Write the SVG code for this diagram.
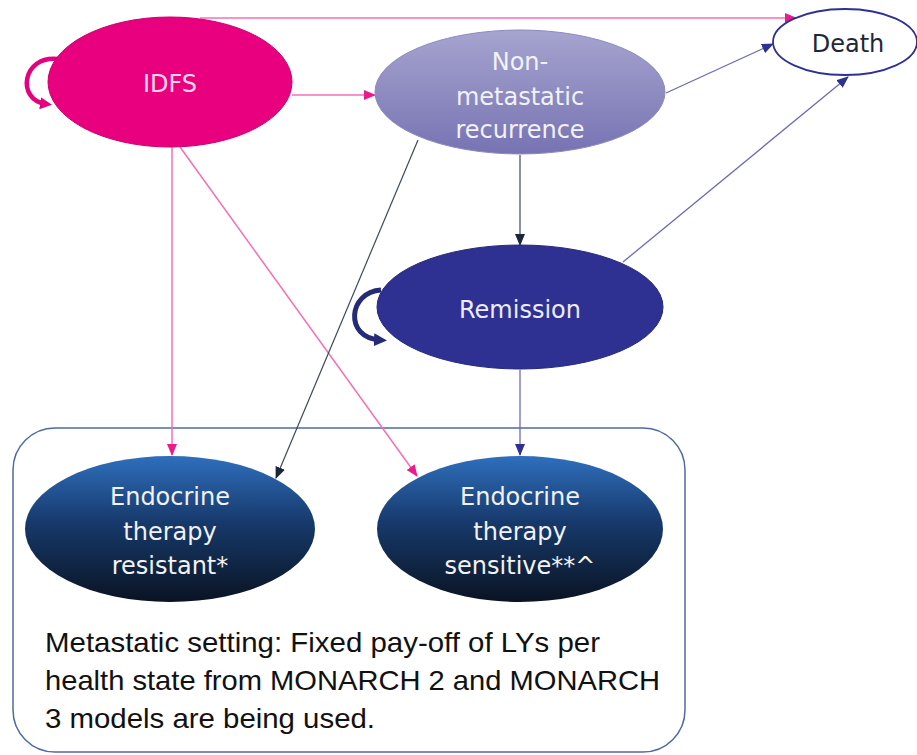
<svg xmlns="http://www.w3.org/2000/svg" width="917" height="755" viewBox="0 0 917 755">
  <style>
    .lbl { font-family: "DejaVu Sans", "Liberation Sans", sans-serif; font-size: 24px; text-anchor: middle; }
    .pink { stroke: #f46fb6; stroke-width: 1.5; fill: none; }
    .blue { stroke: #6b6bb8; stroke-width: 1.3; fill: none; }
    .dark { stroke: #3c4a5c; stroke-width: 1.2; fill: none; }
    .note { font-family: "Liberation Sans", Arial, sans-serif; font-size: 28px; fill: #111; }
  </style>
  <defs>
    <marker id="ahPink" markerUnits="userSpaceOnUse" markerWidth="12" markerHeight="10" refX="11" refY="5" orient="auto">
      <path d="M0,0 L12,5 L0,10 Z" fill="#ec1a8a"/>
    </marker>
    <marker id="ahBlue" markerUnits="userSpaceOnUse" markerWidth="12" markerHeight="10" refX="11" refY="5" orient="auto">
      <path d="M0,0 L12,5 L0,10 Z" fill="#2e3192"/>
    </marker>
    <marker id="ahDark" markerUnits="userSpaceOnUse" markerWidth="12" markerHeight="10" refX="11" refY="5" orient="auto">
      <path d="M0,0 L12,5 L0,10 Z" fill="#1b2636"/>
    </marker>
    <marker id="ahLoopPink" markerUnits="userSpaceOnUse" markerWidth="12" markerHeight="12" refX="6" refY="6" orient="auto">
      <path d="M0,0 L12,6 L0,12 Z" fill="#e6007e"/>
    </marker>
    <marker id="ahLoopNavy" markerUnits="userSpaceOnUse" markerWidth="13" markerHeight="13" refX="6" refY="6.5" orient="auto">
      <path d="M0,0 L13,6.5 L0,13 Z" fill="#262b78"/>
    </marker>
    <linearGradient id="gNon" x1="0" y1="0" x2="0" y2="1">
      <stop offset="0" stop-color="#a6a4cf"/>
      <stop offset="1" stop-color="#7773b3"/>
    </linearGradient>
    <linearGradient id="gEndo" x1="0" y1="0" x2="0" y2="1">
      <stop offset="0" stop-color="#2f6fbd"/>
      <stop offset="0.45" stop-color="#173a6c"/>
      <stop offset="1" stop-color="#0a1322"/>
    </linearGradient>
  </defs>

  <g id="metastatic-box">
    <rect x="13" y="428" width="672" height="324" rx="42" ry="42" fill="none" stroke="#4d6aa3" stroke-width="1.5"/>
    <text class="note" x="45" y="652" textLength="555" lengthAdjust="spacingAndGlyphs">Metastatic setting: Fixed pay-off of LYs per</text>
    <text class="note" x="45" y="690" textLength="615" lengthAdjust="spacingAndGlyphs">health state from MONARCH 2 and MONARCH</text>
    <text class="note" x="45" y="728" textLength="330" lengthAdjust="spacingAndGlyphs">3 models are being used.</text>
  </g>

  <g id="connectors">
    <path class="pink" d="M200 18 L796 18" marker-end="url(#ahPink)"/>
    <path class="pink" d="M292 95 L375 95" marker-end="url(#ahPink)"/>
    <path class="pink" d="M172 147 L172 455" marker-end="url(#ahPink)"/>
    <path class="pink" d="M180 147 L417 476" marker-end="url(#ahPink)"/>
    <path class="blue" d="M666 93 L773 44" marker-end="url(#ahBlue)"/>
    <path class="dark" d="M520 155 L520 245" marker-end="url(#ahDark)"/>
    <path class="dark" d="M418 140 L276 478" marker-end="url(#ahDark)"/>
    <path class="blue" d="M623 262 L848 77" marker-end="url(#ahBlue)"/>
    <path class="blue" d="M520 370 L520 455" marker-end="url(#ahBlue)"/>
    <path d="M58 59 C 22 55, 16 100, 46 104" fill="none" stroke="#e6007e" stroke-width="4.5" marker-end="url(#ahLoopPink)"/>
    <path d="M381 290 C 348 292, 344 338, 380 340" fill="none" stroke="#262b78" stroke-width="5" marker-end="url(#ahLoopNavy)"/>
  </g>

  <g id="idfs">
    <ellipse cx="170" cy="82" rx="122" ry="65" fill="#e8007f" stroke="#c90070" stroke-width="1"/>
    <text class="lbl" x="170" y="92" fill="#fbd6ea">IDFS</text>
  </g>

  <g id="non-metastatic">
    <ellipse cx="520" cy="92" rx="145" ry="62" fill="url(#gNon)" stroke="#8c89c0" stroke-width="1"/>
    <text class="lbl" x="520" y="70" fill="#f2f2fa">Non-</text>
    <text class="lbl" x="520" y="105" fill="#f2f2fa">metastatic</text>
    <text class="lbl" x="520" y="138" fill="#f2f2fa">recurrence</text>
  </g>

  <g id="death">
    <ellipse cx="845" cy="42" rx="72" ry="33" fill="#ffffff" stroke="#2e3192" stroke-width="1.8"/>
    <text class="lbl" x="848" y="52" fill="#1c2838">Death</text>
  </g>

  <g id="remission">
    <ellipse cx="520" cy="307" rx="143" ry="62" fill="#2e3192" stroke="#252877" stroke-width="1"/>
    <text class="lbl" x="520" y="318" fill="#ececfa">Remission</text>
  </g>

  <g id="endo-resistant">
    <ellipse cx="170" cy="529" rx="145" ry="73" fill="url(#gEndo)"/>
    <text class="lbl" x="170" y="505" fill="#f2f2f2">Endocrine</text>
    <text class="lbl" x="170" y="540" fill="#f2f2f2">therapy</text>
    <text class="lbl" x="170" y="574" fill="#f2f2f2">resistant*</text>
  </g>

  <g id="endo-sensitive">
    <ellipse cx="520" cy="529" rx="143" ry="73" fill="url(#gEndo)"/>
    <text class="lbl" x="520" y="505" fill="#f2f2f2">Endocrine</text>
    <text class="lbl" x="520" y="540" fill="#f2f2f2">therapy</text>
    <text class="lbl" x="520" y="574" fill="#f2f2f2">sensitive**^</text>
  </g>
</svg>
